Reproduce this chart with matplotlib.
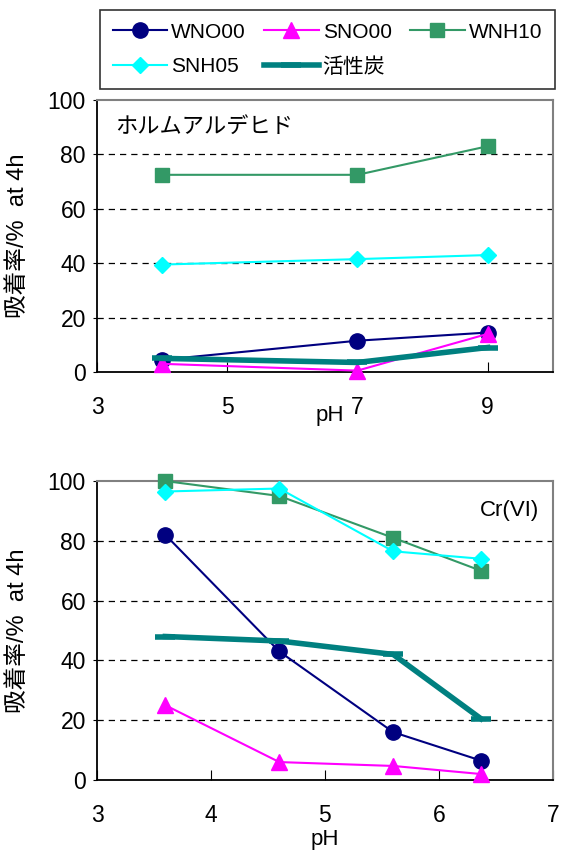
import matplotlib
matplotlib.use("Agg")
import matplotlib.pyplot as plt

plt.rcParams['font.family'] = ['Liberation Sans', 'Noto Sans CJK JP']

# ホルムアルデヒド (top panel)
ph_top = [4, 7, 9]
top_wno00 = [4.5, 11.5, 14.5]
top_sno00 = [3, 0.5, 14]
top_wnh10 = [72.5, 72.5, 83]
top_snh05 = [39.5, 41.5, 43]
top_carbon = [5, 3.5, 9]

# Cr(VI) (bottom panel)
ph_bot = [3.6, 4.6, 5.6, 6.37]
bot_wno00 = [82, 43, 16, 6.5]
bot_sno00 = [25, 6, 4.7, 2]
bot_wnh10 = [100, 95, 81, 70]
bot_snh05 = [96.5, 97.5, 76.5, 74]
bot_carbon = [48, 46.5, 42, 20.5]

labels = ["WNO00", "SNO00", "WNH10", "SNH05", "活性炭"]
styles = [
    dict(color="#000080", marker="o", markersize=11, lw=1.5),
    dict(color="#FF00FF", marker="^", markersize=11, lw=1.5),
    dict(color="#339966", marker="s", markersize=10, lw=1.5),
    dict(color="#00FFFF", marker="D", markersize=8.5, lw=1.5),
    dict(color="#008080", marker="_", markersize=14, mew=4, lw=4),
]

fig = plt.figure(figsize=(5.64, 8.52), dpi=100)
ax1 = fig.add_axes([0.172, 0.5634, 0.808, 0.3192])
ax2 = fig.add_axes([0.172, 0.0845, 0.808, 0.3509])


def draw(ax, x, series):
    handles = []
    for y, lab, st in zip(series, labels, styles):
        h, = ax.plot(x, y, label=lab, clip_on=False, zorder=3, **st)
        handles.append(h)
    ax.set_ylim(0, 100)
    ax.set_yticks([0, 20, 40, 60, 80, 100])
    for yy in [20, 40, 60, 80]:
        ax.axhline(yy, color="black", ls=(0, (5, 4)), lw=0.9, zorder=1)
    for s in ["top", "right"]:
        ax.spines[s].set_color("#808080")
        ax.spines[s].set_linewidth(1.5)
    for s in ["left", "bottom"]:
        ax.spines[s].set_color("black")
        ax.spines[s].set_linewidth(1.3)
    ax.tick_params(axis="x", direction="in", length=7, labelsize=16.5, pad=17)
    ax.tick_params(axis="y", direction="out", length=3, labelsize=16.5, pad=5)
    ax.set_ylabel("吸着率/%  at 4h", fontsize=17)
    ax.yaxis.set_label_coords(-0.15, 0.5)
    return handles


handles = draw(ax1, ph_top, [top_wno00, top_sno00, top_wnh10, top_snh05, top_carbon])
ax1.set_xlim(3, 10)
ax1.set_xticks([3, 5, 7, 9])
ax1.set_xlabel("pH", fontsize=16)
ax1.xaxis.set_label_coords(0.51, -0.12)
ax1.text(0.04, 0.9, "ホルムアルデヒド", transform=ax1.transAxes, fontsize=16, va="center")

draw(ax2, ph_bot, [bot_wno00, bot_sno00, bot_wnh10, bot_snh05, bot_carbon])
ax2.set_xlim(3, 7)
ax2.set_xticks([3, 4, 5, 6, 7])
ax2.set_xlabel("pH", fontsize=16)
ax2.xaxis.set_label_coords(0.5, -0.165)
ax2.text(0.97, 0.9, "Cr(VI)", transform=ax2.transAxes, fontsize=16, va="center", ha="right")

# legend fills column-first, so reorder to get row-first layout
order = [0, 3, 1, 4, 2]
leg = fig.legend(handles=[handles[i] for i in order], loc="upper left",
                 ncol=3, bbox_to_anchor=(100 / 564, 1 - 10 / 852), fontsize=15,
                 frameon=True, fancybox=False, edgecolor="black",
                 handlelength=2.6, handletextpad=0.2, columnspacing=0.9,
                 borderpad=0.6, labelspacing=0.75, borderaxespad=0)
leg.get_frame().set_linewidth(1.2)

fig.savefig("out.png", dpi=100)
